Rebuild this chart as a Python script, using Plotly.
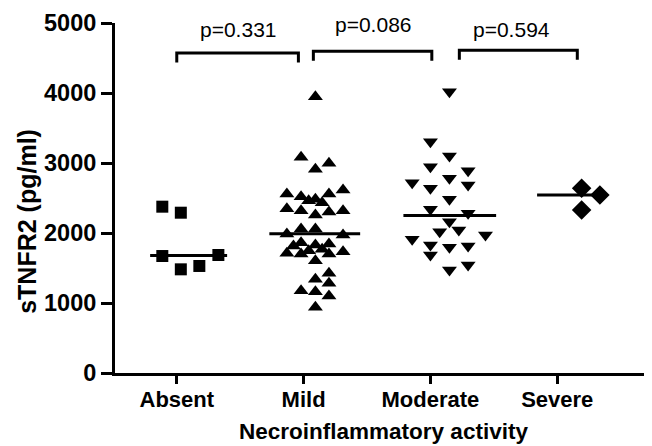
import plotly.graph_objects as go

# ---- data ----
categories = ["Absent", "Mild", "Moderate", "Severe"]

absent_vals = [2376, 2290, 1671, 1686, 1481, 1529]
absent_jit = [-0.114, 0.032, -0.114, 0.328, 0.032, 0.178]

mild_vals = [3947, 3081, 2996, 2910, 2557, 2519, 2557, 2614, 2461, 2481, 2433,
             2347, 2319, 2257, 2300, 2319, 1986, 2057, 2057, 1971, 1814, 1861,
             1747, 1829, 1767, 1843, 1710, 1700, 1700, 1733, 1604, 1339, 1424,
             1281, 1176, 1161, 1100, 939]
mild_jit = [0.093, -0.02, 0.2, 0.093, -0.132, -0.02, 0.2, 0.311, 0.04, 0.093, 0.146,
            -0.132, -0.02, 0.093, 0.2, 0.311, -0.132, -0.02, 0.093, 0.311, -0.08, -0.02,
            0.04, 0.093, 0.146, 0.2, -0.132, -0.02, 0.2, 0.311, 0.093, 0.093, 0.2,
            0.2, -0.02, 0.093, 0.2, 0.093]

moderate_vals = [4019, 3304, 3100, 2947, 2890, 2719, 2638, 2781, 2686, 2481, 2339,
                 2281, 2162, 2019, 2043, 1971, 1910, 1829, 1686, 1796, 1814, 1471, 1543]
moderate_jit = [0.15, 0.0, 0.15, 0.0, 0.297, -0.144, 0.0, 0.15, 0.297, 0.15, 0.0,
                0.297, 0.15, 0.073, 0.224, 0.434, -0.144, 0.0, 0.0, 0.15, 0.297, 0.15, 0.297]

severe_vals = [2638, 2543, 2329]
severe_jit = [0.192, 0.336, 0.192]

medians = [1680, 1990, 2250, 2543]
p_labels = ["p=0.331", "p=0.086", "p=0.594"]
y_ticks = [0, 1000, 2000, 3000, 4000, 5000]

# ---- layout/style parameters ----
FONT = "Liberation Sans, Arial, sans-serif"
median_span = [(-0.21, 0.397), (0.73, 1.446), (1.787, 2.518), (2.841, 3.338)]
bracket_span = [(0.0, 0.959, 4571), (1.077, 2.011, 4595), (2.228, 3.158, 4609)]
p_pos = [(0.486, 4904), (1.55, 4976), (2.642, 4904)]

groups = [
    (absent_vals, absent_jit, "square", 12),
    (mild_vals, mild_jit, "triangle-up", 13),
    (moderate_vals, moderate_jit, "triangle-down", 13),
    (severe_vals, severe_jit, "diamond", 15),
]

fig = go.Figure()
for i, (vals, jit, sym, sz) in enumerate(groups):
    fig.add_trace(go.Scatter(
        x=[i + j for j in jit], y=vals, mode="markers",
        marker=dict(symbol=sym, size=sz, color="black", line=dict(width=0)),
        showlegend=False, cliponaxis=False, hoverinfo="y"))

for (x0, x1), m in zip(median_span, medians):
    fig.add_shape(type="line", x0=x0, x1=x1, y0=m, y1=m,
                  line=dict(color="black", width=3))

for (x0, x1, yt), (px, py), lab in zip(bracket_span, p_pos, p_labels):
    fig.add_trace(go.Scatter(
        x=[x0, x0, x1, x1], y=[yt - 135, yt, yt, yt - 135], mode="lines",
        line=dict(color="black", width=3), showlegend=False,
        cliponaxis=False, hoverinfo="skip"))
    fig.add_annotation(x=px, y=py, text=lab, showarrow=False,
                       font=dict(family=FONT, size=21, color="black"))

# y-axis title placed as a rotated annotation (it sits below the axis centre)
fig.add_annotation(x=-0.1644, xref="paper", y=2170, yref="y",
                   text="sTNFR2 (pg/ml)", textangle=-90, showarrow=False,
                   xanchor="center", yanchor="middle",
                   font=dict(family=FONT, size=25, color="black", weight="bold"))

# page body has an 8px margin, so the figure is sized to fit 652x446 window
fig.update_layout(
    width=644, height=438,
    margin=dict(l=107, r=0, t=15, b=73),
    plot_bgcolor="white", paper_bgcolor="white",
    font=dict(family=FONT, color="black"),
    xaxis=dict(
        range=[-0.487, 3.747], tickmode="array", tickvals=[0, 1, 2, 3],
        ticktext=categories, showgrid=False, zeroline=False,
        showline=True, linecolor="black", linewidth=3,
        ticks="outside", ticklen=8, tickwidth=3, tickcolor="black",
        ticklabelstandoff=-3,
        tickfont=dict(family=FONT, size=22, color="black", weight="bold"),
        title=dict(text="Necroinflammatory activity", standoff=12,
                   font=dict(family=FONT, size=22.5, color="black", weight="bold")),
    ),
    yaxis=dict(
        range=[0, 5000], tickmode="array", tickvals=y_ticks,
        showgrid=False, zeroline=False,
        showline=True, linecolor="black", linewidth=3,
        ticks="outside", ticklen=11, tickwidth=3, tickcolor="black",
        tickfont=dict(family=FONT, size=23.5, color="black", weight="bold"),
    ),
)

fig.write_html("out.html")
